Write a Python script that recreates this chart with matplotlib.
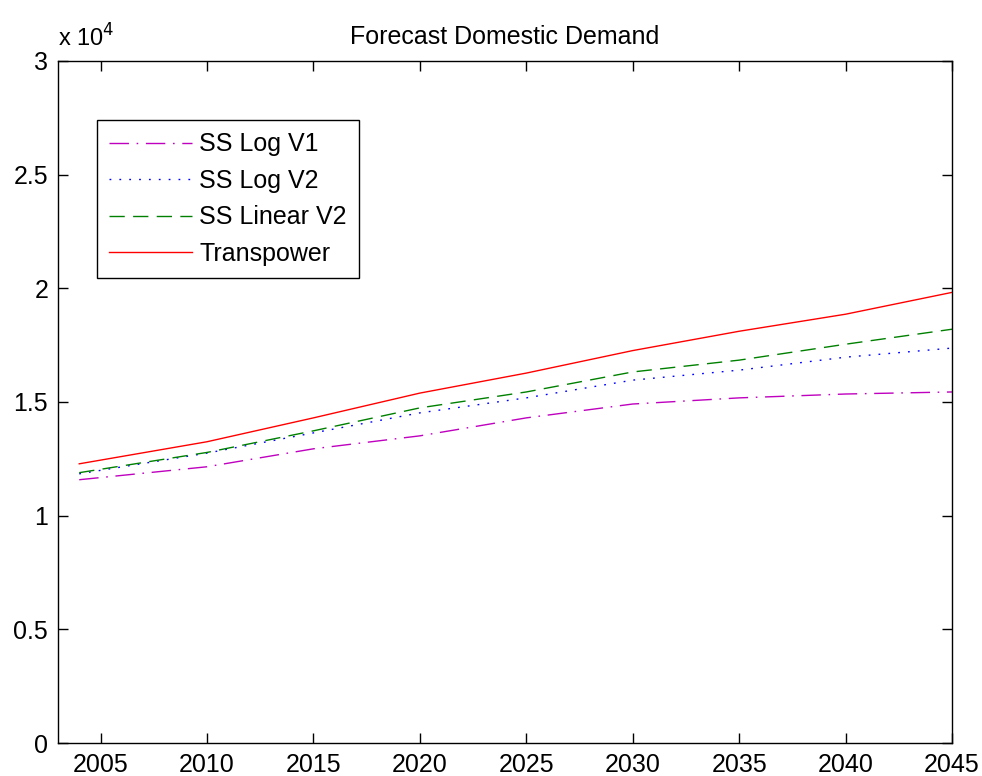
import matplotlib
matplotlib.use('Agg')
import matplotlib.pyplot as plt
from matplotlib.ticker import FuncFormatter

# Forecast years and demand series
years = [2004, 2010, 2015, 2020, 2025, 2030, 2035, 2040, 2045]
ss_log_v1 = [11580, 12150, 12940, 13510, 14300, 14910, 15180, 15350, 15440]
ss_log_v2 = [11840, 12750, 13640, 14520, 15180, 15960, 16400, 16970, 17370]
ss_linear_v2 = [11890, 12780, 13730, 14740, 15440, 16320, 16840, 17540, 18200]
transpower = [12280, 13250, 14300, 15390, 16270, 17260, 18110, 18860, 19820]

x_ticks = [2005, 2010, 2015, 2020, 2025, 2030, 2035, 2040, 2045]
y_ticks = [0, 5000, 10000, 15000, 20000, 25000, 30000]

plt.rcParams['font.family'] = ['Liberation Sans', 'DejaVu Sans']
plt.rcParams['font.size'] = 18

fig = plt.figure(figsize=(9.82, 7.76), dpi=100)
ax = fig.add_axes([0.059, 0.0425, 0.9105, 0.879])

ax.plot(years, ss_log_v1, color='m', linewidth=1, dashes=(14, 5.5, 1.2, 5.5), label='SS Log V1')
ax.plot(years, ss_log_v2, color='b', linewidth=1, dashes=(1.3, 5.8), label='SS Log V2')
ax.plot(years, ss_linear_v2, color=(0, 0.5, 0), linewidth=1, dashes=(11, 6), label='SS Linear V2')
ax.plot(years, transpower, color='r', linestyle='-', linewidth=1, label='Transpower')

ax.set_xlim(2003, 2045)
ax.set_ylim(0, 30000)
ax.set_xticks(x_ticks)
ax.set_yticks(y_ticks)
ax.yaxis.set_major_formatter(FuncFormatter(lambda v, p: '%g' % (v / 1e4)))
ax.tick_params(direction='in', top=True, right=True, length=7, width=1, labelsize=18, pad=7)
for s in ax.spines.values():
    s.set_linewidth(1)

ax.set_title('Forecast Domestic Demand', fontsize=18, pad=12)
ax.text(0.0, 1.014, 'x 10$^4$', transform=ax.transAxes, fontsize=17, ha='left', va='bottom')

leg = ax.legend(loc='upper left', bbox_to_anchor=(0.0436, 0.9135), borderaxespad=0, fancybox=False,
                edgecolor='black', framealpha=1, handlelength=3.3, handletextpad=0.3, borderpad=0.5,
                labelspacing=0.5, fontsize=18)
leg.get_frame().set_linewidth(1)

plt.savefig('out.png', dpi=100)
